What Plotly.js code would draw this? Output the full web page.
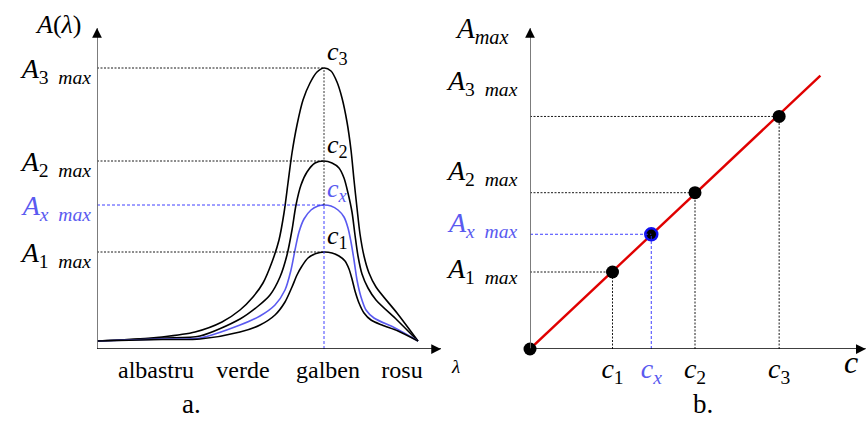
<!DOCTYPE html>
<html>
<head>
<meta charset="utf-8">
<script src="https://cdn.plot.ly/plotly-3.0.1.min.js"></script>
<style>
  html, body { margin: 0; padding: 0; background: #ffffff; }
  #wrap { position: relative; width: 868px; height: 421px; }
  #chart { width: 868px; height: 421px; }
  .caption { position: absolute; top: 391px; font-family: 'Liberation Serif', serif; font-size: 27px; line-height: 27px; color: #000; }
</style>
</head>
<body>
<div id="wrap">
  <div id="chart"></div>
  <div class="caption" style="left:182px">a.</div>
  <div class="caption" style="left:693px">b.</div>
</div>
<script>
// a. absorption spectra A(λ) of the standards c1, c2, c3 and of the unknown cx (arbitrary units)
const lamC1 = [0, 65, 103, 143, 163, 178, 188, 195, 200, 205, 211, 219, 227, 235, 242, 248, 252, 255, 258, 262, 267, 274, 285, 301, 321];
const absC1 = [8, 9.5, 10, 17, 24, 34, 47, 62, 74, 83, 91, 95.5, 97, 96, 93, 88, 80, 70, 58, 46, 36, 29, 24, 18, 8];

const lamCx = [0, 65, 103, 143, 163, 178, 188, 194, 198, 202, 207, 214, 221, 227, 234, 241, 247, 251, 254, 257, 260, 264, 269, 277, 298, 321];
const absCx = [8, 10, 11, 24, 33, 44, 59, 79, 99, 117, 130, 139, 143, 144, 143, 139, 132, 121, 107, 89, 69, 52, 39, 31, 21, 8];

const lamC2 = [0, 65, 103, 143, 160, 173, 183, 190, 195, 199, 204, 210, 218, 227, 235, 242, 247, 251, 255, 258, 261, 265, 271, 279, 300, 321];
const absC2 = [8, 11, 13, 30, 42, 54, 72, 94, 119, 144, 164, 177, 186, 188, 186, 181, 171, 156, 137, 114, 93, 75, 61, 49, 29, 8];

const lamC3 = [0, 33, 65, 98, 125, 143, 156, 166, 175, 182, 187, 191, 195, 200, 206, 213, 220, 227, 234, 240, 245, 250, 254, 257, 260, 263, 267, 272, 279, 300, 321];
const absC3 = [8, 9.5, 12, 17, 27, 39, 52, 66, 87, 109, 136, 166, 196, 224, 249, 266, 277, 281, 278, 267, 251, 227, 199, 169, 141, 115, 93, 76, 62, 36, 8];

const peakLam = 227;                 // λ of the absorption maximum
const peakNames = ['1', 'x', '2', '3'];
const peakAbs = [97, 144, 188, 281]; // A1 max, Ax max, A2 max, A3 max

const bandNames = ['albastru', 'verde', 'galben', 'rosu'];
const bandPos = [59, 146, 231, 305];

// b. calibration line Amax = f(c)
const concStd = [0, 1.0, 2.0, 3.02];
const amaxStd = [0, 1.0, 2.03, 3.02];
const concX = [1.47];
const amaxX = [1.49];
const fitConc = [0, 3.52];
const fitAmax = [0, 3.55];
const concNames = ['1', 'x', '2', '3'];
const concVals = [1.0, 1.47, 2.0, 3.02];
const amaxVals = [1.0, 1.49, 2.03, 3.02];

const BLUE = '#5a5af0';
const BLUE_DASH = '#2a2aff';
const SERIF = 'Liberation Serif';

function amaxLabel(sub, color) {
  const t = '<i>A</i><sub>' + sub + '&#160;&#160;<i>max</i></sub>';
  return color ? '<span style="color:' + color + '">' + t + '</span>' : t;
}

const curveLine = c => ({ color: c, width: 1.6, shape: 'spline', smoothing: 0.8 });
const traces = [
  { x: lamC3, y: absC3, mode: 'lines', line: curveLine('#000'), xaxis: 'x', yaxis: 'y' },
  { x: lamC2, y: absC2, mode: 'lines', line: curveLine('#000'), xaxis: 'x', yaxis: 'y' },
  { x: lamCx, y: absCx, mode: 'lines', line: curveLine(BLUE), xaxis: 'x', yaxis: 'y' },
  { x: lamC1, y: absC1, mode: 'lines', line: curveLine('#000'), xaxis: 'x', yaxis: 'y' },
  { x: fitConc, y: fitAmax, mode: 'lines', line: { color: '#e00000', width: 2.4 }, xaxis: 'x2', yaxis: 'y2' },
  { x: concStd, y: amaxStd, mode: 'markers', marker: { color: '#000', size: 13 }, cliponaxis: false, xaxis: 'x2', yaxis: 'y2' },
  { x: concX, y: amaxX, mode: 'markers', marker: { color: '#000', size: 12, line: { color: '#1010f0', width: 2.5 } }, cliponaxis: false, xaxis: 'x2', yaxis: 'y2' }
];

const shapes = [];
const annotations = [];

// guide lines and curve names, panel a
peakAbs.forEach((a, i) => {
  const isX = peakNames[i] === 'x';
  shapes.push({ type: 'line', xref: 'x', yref: 'y', x0: 0, x1: peakLam, y0: a, y1: a,
    line: { color: isX ? BLUE_DASH : '#000', width: 0.9, dash: isX ? '3px,2px' : '2px,1.5px' } });
  annotations.push({ xref: 'x', yref: 'y', x: peakLam, y: a, xanchor: 'left', yanchor: 'bottom',
    xshift: 1, yshift: -3, showarrow: false,
    text: '<i>c</i><sub>' + (isX ? '<i>x</i>' : peakNames[i]) + '</sub>',
    font: { family: SERIF, size: 26, color: isX ? BLUE : '#000' } });
});
const axMax = peakAbs[peakNames.indexOf('x')];
const topMax = Math.max(...peakAbs);
shapes.push({ type: 'line', xref: 'x', yref: 'y', x0: peakLam, x1: peakLam, y0: 0, y1: axMax,
  line: { color: BLUE_DASH, width: 0.9, dash: '3px,2px' } });
shapes.push({ type: 'line', xref: 'x', yref: 'y', x0: peakLam, x1: peakLam, y0: axMax, y1: topMax,
  line: { color: '#000', width: 0.8, dash: '2px,1.5px' } });

// guide lines and Amax labels, panel b
const labelShift = [2, 10, 20, 34];
concVals.forEach((c, i) => {
  const isX = concNames[i] === 'x';
  const col = isX ? BLUE_DASH : '#000';
  const dash = isX ? '3px,2px' : '2px,1.5px';
  shapes.push({ type: 'line', xref: 'x2', yref: 'y2', x0: 0, x1: c, y0: amaxVals[i], y1: amaxVals[i], line: { color: col, width: 0.9, dash } });
  shapes.push({ type: 'line', xref: 'x2', yref: 'y2', x0: c, x1: c, y0: 0, y1: amaxVals[i], line: { color: col, width: 0.9, dash } });
  annotations.push({ xref: 'x2', yref: 'y2', x: 0, y: amaxVals[i], xanchor: 'right', yanchor: 'middle',
    xshift: -10, yshift: labelShift[i], showarrow: false,
    text: amaxLabel(isX ? '<i>x</i>' : concNames[i]),
    font: { family: SERIF, size: 28, color: isX ? BLUE : '#000' } });
});

// axes with arrow heads
function axisArrow(xref, yref, x0, y0, x1, y1, color, width, dx, dy) {
  shapes.push({ type: 'line', xref, yref, x0, y0, x1, y1, line: { color, width } });
  annotations.push({ xref, yref, x: x1, y: y1, ax: dx, ay: dy, showarrow: true, text: '',
    arrowhead: 2, arrowsize: 1.3, arrowwidth: 1.5, arrowcolor: '#000' });
}
axisArrow('x', 'y', 0, 0, 0, 321, '#6e6e6e', 1.8, 0, 6);
axisArrow('x', 'y', 0, 0, 344, 0, '#000', 1.3, -6, 0);
axisArrow('x2', 'y2', 0, 0, 0, 4.17, '#6e6e6e', 1.8, 0, 6);
axisArrow('x2', 'y2', 0, 0, 4.07, 0, '#000', 1.3, -6, 0);

// axis names
const freeText = [
  { x: 58, y: 25, text: '<i>A</i>(<i>λ</i>)', size: 26 },
  { x: 455, y: 366, text: '<i>λ</i>', size: 19 },
  { x: 482, y: 30, text: '<i>A</i><sub><i>max</i></sub>', size: 29 },
  { x: 851, y: 362, text: '<i>c</i>', size: 32 }
];
freeText.forEach(t => annotations.push({ xref: 'paper', yref: 'paper', x: t.x / 868, y: 1 - t.y / 421,
  xanchor: 'center', yanchor: 'middle', borderpad: 0, showarrow: false, text: t.text,
  font: { family: SERIF, size: t.size, color: '#000' } }));

const hidden = { showgrid: false, zeroline: false, showline: false, ticks: '', fixedrange: true };

const layout = {
  width: 868, height: 421,
  margin: { l: 0, r: 0, t: 0, b: 0 },
  showlegend: false,
  paper_bgcolor: 'rgba(0,0,0,0)', plot_bgcolor: 'rgba(0,0,0,0)',
  font: { family: SERIF, color: '#000' },
  xaxis: Object.assign({}, hidden, { domain: [97 / 868, 441 / 868], range: [0, 344], anchor: 'y',
    tickvals: bandPos, ticktext: bandNames, tickfont: { family: SERIF, size: 24 }, ticklabelstandoff: 4 }),
  yaxis: Object.assign({}, hidden, { domain: [72 / 421, 1], range: [0, 349], anchor: 'x',
    tickvals: peakAbs, ticktext: peakAbs.map((a, i) => amaxLabel(peakNames[i] === 'x' ? '<i>x</i>' : peakNames[i], peakNames[i] === 'x' ? BLUE : null)),
    tickfont: { family: SERIF, size: 28 }, ticklabelstandoff: 5 }),
  xaxis2: Object.assign({}, hidden, { domain: [530 / 868, 1], range: [0, 338 / 82.5], anchor: 'y2',
    tickvals: concVals, ticktext: concNames.map(n => n === 'x' ? '<span style="color:' + BLUE + '"><i>c</i><sub><i>x</i></sub></span>' : '<i>c</i><sub>' + n + '</sub>'),
    tickfont: { family: SERIF, size: 28 }, ticklabelstandoff: 0 }),
  yaxis2: Object.assign({}, hidden, { domain: [72 / 421, 1], range: [0, 349 / 77], anchor: 'x2', showticklabels: false }),
  shapes, annotations
};

Plotly.newPlot('chart', traces, layout, { displayModeBar: false, staticPlot: true });
</script>
</body>
</html>
